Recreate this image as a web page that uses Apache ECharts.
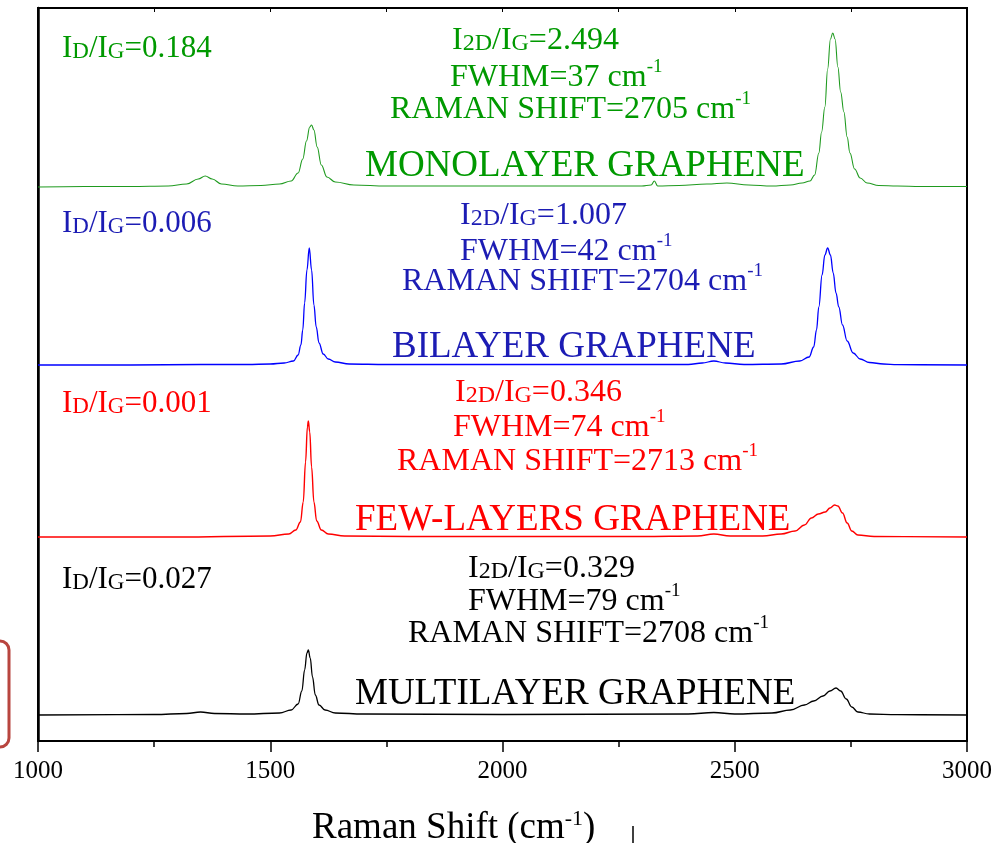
<!DOCTYPE html>
<html>
<head>
<meta charset="utf-8">
<script src="https://cdn.jsdelivr.net/npm/echarts@6/dist/echarts.min.js"></script>
<style>html,body{margin:0;padding:0;background:#fff}#c{width:996px;height:843px}</style>
</head>
<body>
<div id="c"></div>
<script>
// x tick labels
var xTicks = [1000, 1500, 2000, 2500, 3000];
// vertical stacking offsets (arbitrary intensity units)
var offsets = { mono: 554, bi: 376, few: 204, multi: 26 };
// spectra: [Raman shift, intensity above own baseline]
var monolayer = [[1000,0],[1100,0.5],[1200,0.5],[1280,1],[1320,3],[1345,8],[1360,11],[1375,8],[1395,3],[1430,1],[1480,1.5],[1520,3],[1545,6],[1560,14],[1570,28],[1578,46],[1585,60],[1589,62],[1594,57],[1601,40],[1610,22],[1622,10],[1640,5],[1680,2],[1750,1],[1850,1],[2000,1],[2150,1],[2300,1],[2320,2],[2327,6],[2334,1],[2380,1.5],[2440,3],[2483,4],[2530,2],[2580,1],[2620,2],[2645,4],[2662,6],[2672,12],[2681,34],[2687,55],[2694,80],[2700,118],[2706,148],[2711,154],[2716,148],[2722,120],[2728,95],[2735,75],[2742,50],[2748,34],[2758,18],[2770,9],[2785,4],[2810,1.5],[2850,1],[2900,0.5],[3000,0.5]];
var bilayer = [[1000,0],[1200,0],[1350,0.5],[1450,0.5],[1500,1],[1530,2],[1550,4],[1560,10],[1566,20],[1570,35],[1574,62],[1579,95],[1584,117],[1589,95],[1594,60],[1599,38],[1605,22],[1614,11],[1625,6],[1640,3],[1670,1],[1750,0.5],[2000,0.5],[2400,0.5],[2430,2],[2455,4],[2480,2],[2520,0.5],[2600,1],[2640,4],[2660,8],[2670,18],[2676,35],[2681,58],[2688,90],[2694,110],[2700,117],[2706,110],[2712,92],[2718,72],[2724,58],[2732,40],[2742,24],[2755,12],[2770,6],[2790,2.5],[2820,1],[2850,0.3],[3000,0]];
var fewLayers = [[1000,0],[1300,0],[1500,1],[1540,3],[1555,7],[1565,15],[1571,35],[1576,75],[1580,110],[1582,116],[1585,105],[1589,70],[1594,35],[1600,16],[1610,7],[1625,3],[1660,1],[1800,0.5],[2300,0.5],[2420,1],[2455,3],[2490,1],[2560,1],[2600,3],[2630,6],[2650,12],[2665,19],[2680,23],[2695,25],[2705,29],[2715,32],[2722,31],[2732,24],[2742,14],[2752,6],[2765,2],[2800,0.5],[3000,0]];
var multilayer = [[1000,0],[1250,0.5],[1320,1.5],[1350,3],[1380,1.5],[1450,1],[1520,2],[1545,5],[1560,11],[1568,24],[1574,45],[1579,62],[1582,65],[1586,57],[1591,38],[1597,20],[1605,10],[1618,5],[1640,2],[1700,1],[2000,0.5],[2400,1],[2455,2.5],[2500,1],[2580,2],[2620,5],[2650,10],[2670,14],[2690,19],[2705,24],[2718,27],[2728,24],[2740,16],[2752,8],[2765,3],[2790,1],[2850,0.3],[3000,0]];

function shift(arr, off){ return arr.map(function(p){ return [p[0], p[1] + off]; }); }

var FONT = '"Liberation Serif", "Times New Roman", serif';
function rich(color, big, small){
  return {
    b: {fontFamily: FONT, fontSize: big, color: color, lineHeight: big + 4, verticalAlign: 'bottom'},
    s: {fontFamily: FONT, fontSize: small, color: color, lineHeight: big + 4, verticalAlign: 'bottom', padding: [0,0,1,0]},
    p: {fontFamily: FONT, fontSize: Math.round(big*0.6), color: color, lineHeight: big + 4, verticalAlign: 'top'}
  };
}
function txt(x, y, str, color, big, small){
  return {type: 'text', left: x, top: y, style: {text: str, rich: rich(color, big, small || Math.round(big*0.75)), fill: color}, z: 10};
}
var G = '#009900', B = '#1c1cb4', R = '#ff0000', K = '#000000';
var graphics = [
  txt(62, 33, '{b|I}{s|D}{b|/I}{s|G}{b|=0.184}', G, 31),
  txt(452, 25, '{b|I}{s|2D}{b|/I}{s|G}{b|=2.494}', G, 32),
  txt(450, 58, '{b|FWHM=37 cm}{p|-1}', G, 32),
  txt(390, 90, '{b|RAMAN SHIFT=2705 cm}{p|-1}', G, 32),
  txt(365, 148, '{b|MONOLAYER GRAPHENE}', G, 37),

  txt(62, 208, '{b|I}{s|D}{b|/I}{s|G}{b|=0.006}', B, 31),
  txt(460, 200, '{b|I}{s|2D}{b|/I}{s|G}{b|=1.007}', B, 32),
  txt(460, 232, '{b|FWHM=42 cm}{p|-1}', B, 32),
  txt(402, 262, '{b|RAMAN SHIFT=2704 cm}{p|-1}', B, 32),
  txt(392, 329, '{b|BILAYER GRAPHENE}', B, 37),

  txt(62, 388, '{b|I}{s|D}{b|/I}{s|G}{b|=0.001}', R, 31),
  txt(455, 377, '{b|I}{s|2D}{b|/I}{s|G}{b|=0.346}', R, 32),
  txt(453, 408, '{b|FWHM=74 cm}{p|-1}', R, 32),
  txt(397, 442, '{b|RAMAN SHIFT=2713 cm}{p|-1}', R, 32),
  txt(355, 502, '{b|FEW-LAYERS GRAPHENE}', R, 37),

  txt(62, 564, '{b|I}{s|D}{b|/I}{s|G}{b|=0.027}', K, 31),
  txt(468, 553, '{b|I}{s|2D}{b|/I}{s|G}{b|=0.329}', K, 32),
  txt(468, 582, '{b|FWHM=79 cm}{p|-1}', K, 32),
  txt(408, 614, '{b|RAMAN SHIFT=2708 cm}{p|-1}', K, 32),
  txt(355, 676, '{b|MULTILAYER GRAPHENE}', K, 37),

  {type: 'text', left: 312, top: 806, style: {text: '{a|Raman Shift (cm}{p|-1}{a|)}', rich: {
      a: {fontFamily: FONT, fontSize: 37, color: '#000', lineHeight: 41, verticalAlign: 'bottom'},
      p: {fontFamily: FONT, fontSize: 22, color: '#000', lineHeight: 41, verticalAlign: 'top', padding: [2,0,0,0]}
    }}, z: 10},
  {type: 'rect', shape: {x: -50, y: 641, width: 59, height: 106, r: 9}, style: {fill: 'none', stroke: '#b8453f', lineWidth: 3}, z: 10},
  {type: 'line', shape: {x1: 633, y1: 826, x2: 633, y2: 843}, style: {stroke: '#000', lineWidth: 1.5}, z: 10}
];

var chart = echarts.init(document.getElementById('c'), null, {renderer: 'canvas'});
chart.setOption({
  animation: false,
  backgroundColor: '#fff',
  grid: {left: 38, right: 29, top: 8, bottom: 102, show: true, borderColor: '#000', borderWidth: 2, containLabel: false, outerBoundsMode: 'none'},
  xAxis: [{
    type: 'value', min: 1000, max: 3000, interval: 500, position: 'bottom',
    axisLine: {show: true, lineStyle: {color: '#000', width: 2}},
    axisTick: {show: true, inside: false, length: 11, lineStyle: {color: '#000', width: 1.5}},
    minorTick: {show: true, splitNumber: 2, length: 6, lineStyle: {color: '#000', width: 1.5}},
    splitLine: {show: false},
    axisLabel: {show: true, margin: 18, color: '#000', fontFamily: FONT, fontSize: 25,
      formatter: function(v){ return xTicks.indexOf(v) >= 0 ? String(v) : ''; }}
  }, {
    type: 'value', min: 1000, max: 3000, interval: 250, position: 'top',
    axisLine: {show: true, lineStyle: {color: '#000', width: 2}},
    axisTick: {show: true, inside: true, length: 4, lineStyle: {color: '#000', width: 1}},
    axisLabel: {show: false}, splitLine: {show: false}
  }],
  yAxis: {
    type: 'value', min: 0, max: 733,
    axisLine: {show: true, lineStyle: {color: '#000', width: 2.5}},
    axisTick: {show: false}, axisLabel: {show: false}, splitLine: {show: false}
  },
  series: [
    {name: 'MONOLAYER GRAPHENE', type: 'line', data: shift(monolayer, offsets.mono), showSymbol: false, smooth: 0.4, smoothMonotone: 'x', lineStyle: {color: '#1f9a1f', width: 1.1}},
    {name: 'BILAYER GRAPHENE', type: 'line', data: shift(bilayer, offsets.bi), showSymbol: false, smooth: 0.4, smoothMonotone: 'x', lineStyle: {color: '#0000ff', width: 1.3}},
    {name: 'FEW-LAYERS GRAPHENE', type: 'line', data: shift(fewLayers, offsets.few), showSymbol: false, smooth: 0.4, smoothMonotone: 'x', lineStyle: {color: '#ff0000', width: 1.4}},
    {name: 'MULTILAYER GRAPHENE', type: 'line', data: shift(multilayer, offsets.multi), showSymbol: false, smooth: 0.4, smoothMonotone: 'x', lineStyle: {color: '#000', width: 1.3}}
  ],
  graphic: graphics
});
</script>
</body>
</html>
